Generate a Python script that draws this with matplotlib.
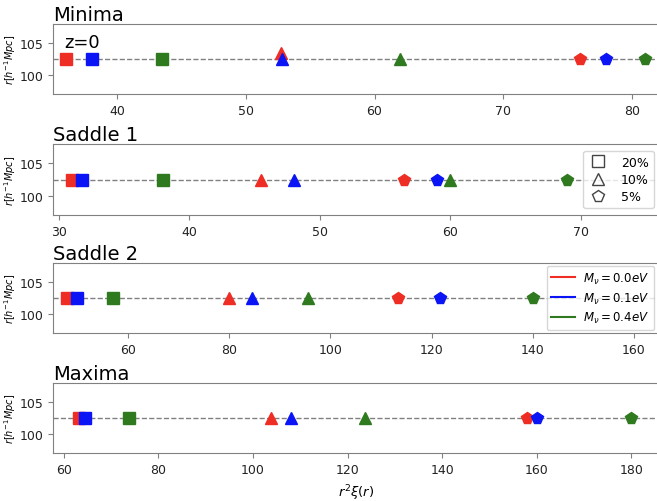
import matplotlib
matplotlib.use("Agg")
import matplotlib.pyplot as plt
from matplotlib.lines import Line2D

# r^2 xi(r) peak positions, rows = neutrino mass, cols = threshold (20%, 10%, 5%)
panel_names = ["Minima", "Saddle 1", "Saddle 2", "Maxima"]
masses = ["0.0", "0.1", "0.4"]
thresholds = ["20%", "10%", "5%"]

minima_x = [[36.0, 52.7, 76.0], [38.0, 52.8, 78.0], [43.5, 62.0, 81.0]]
minima_y = [[102.5, 103.5, 102.5], [102.5, 102.5, 102.5], [102.5, 102.5, 102.5]]
saddle1_x = [[31.0, 45.5, 56.5], [31.75, 48.0, 59.0], [38.0, 60.0, 69.0]]
saddle1_y = [[102.5] * 3] * 3
saddle2_x = [[48.0, 80.0, 113.4], [50.0, 84.5, 121.6], [57.1, 95.6, 140.0]]
saddle2_y = [[102.5] * 3] * 3
maxima_x = [[63.1, 103.7, 157.9], [64.5, 108.1, 160.0], [73.8, 123.6, 180.0]]
maxima_y = [[102.5] * 3] * 3

r_ref = 102.5
xlims = [(35.0, 82.1), (29.55, 76.0), (45.2, 164.9), (57.7, 185.8)]

colors = ["#ee2d24", "#0a14f5", "#2f7a1f"]
markers = ["s", "^", "p"]

fig = plt.figure(figsize=(6.57, 5.02), dpi=100)
bottoms = [0.8108, 0.5697, 0.3347, 0.0956]
heights = [0.1394, 0.1414, 0.1394, 0.1394]
data = [(minima_x, minima_y), (saddle1_x, saddle1_y),
        (saddle2_x, saddle2_y), (maxima_x, maxima_y)]

axes = []
for k, name in enumerate(panel_names):
    ax = fig.add_axes([0.0807, bottoms[k], 0.922, heights[k]])
    xs, ys = data[k]
    ax.axhline(r_ref, color="grey", ls="--", lw=1, zorder=1)
    for j in range(3):
        for i in range(3):
            ax.plot(xs[i][j], ys[i][j], marker=markers[j], color=colors[i],
                    ms=8.5, ls="none", zorder=3)
    ax.set_xlim(*xlims[k])
    ax.set_ylim(97, 108)
    ax.set_yticks([100, 105])
    ax.set_title(name, loc="left", fontsize=14, pad=3)
    ax.set_ylabel(r"$r[h^{-1}Mpc]$", fontsize=7, labelpad=1)
    for s in ax.spines.values():
        s.set_color("grey")
    ax.tick_params(colors="grey", labelcolor="#222222", labelsize=9)
    axes.append(ax)

axes[0].text(0.018, 0.667, "z=0", transform=axes[0].transAxes, fontsize=13)

shape_handles = [Line2D([], [], marker=m, ls="none", mfc="none", mec="#444444",
                        ms=8.5, label=t) for m, t in zip(markers, thresholds)]
axes[1].legend(handles=shape_handles, loc="center right", fontsize=9,
               borderaxespad=0.4, handletextpad=1.0, labelspacing=0.35,
               handlelength=1.6)

mass_handles = [Line2D([], [], color=c, lw=1.5, label=r"$M_\nu=%seV$" % m)
                for c, m in zip(colors, masses)]
axes[2].legend(handles=mass_handles, loc="center right", fontsize=8.5,
               borderaxespad=0.4, labelspacing=0.4, handlelength=2.0,
               handletextpad=0.7)

axes[3].set_xlabel(r"$r^2\xi(r)$", fontsize=9.5, labelpad=5)

fig.savefig("out.png", dpi=100)
